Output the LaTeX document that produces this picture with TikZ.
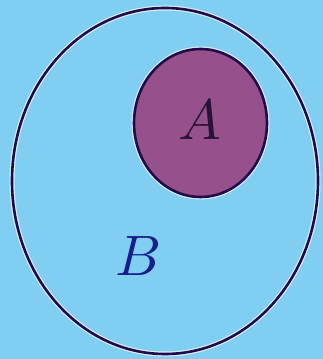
\documentclass[tikz,border=0pt]{standalone}
\definecolor{bg}{RGB}{128,206,242}
\definecolor{halo}{RGB}{215,240,252}
\definecolor{rim}{RGB}{35,10,75}
\definecolor{fillA}{RGB}{150,80,140}
\definecolor{textA}{RGB}{40,20,55}
\definecolor{textB}{RGB}{25,30,140}
\tikzset{
  setline/.style={draw=rim, line width=2.6pt},
  glow/.style={draw=halo, line width=5pt},
  lbl/.style={font=\normalsize, scale=5.7, transform shape},
}
\begin{document}
\begin{tikzpicture}[x=1pt,y=1pt]
\fill[bg] (0,0) rectangle (323,359);
\useasboundingbox (0,0) rectangle (323,359);
% outer set B
\draw[glow] (165,178) ellipse [x radius=153, y radius=173];
\draw[setline] (165,178) ellipse [x radius=153, y radius=173];
% inner set A
\draw[glow] (200.5,236) ellipse [x radius=66.5, y radius=74];
\draw[setline, fill=fillA] (200.5,236) ellipse [x radius=66.5, y radius=74];
\node[lbl, text=textA] (A) at (200,239) {$A$};
\node[lbl, text=textB] (B) at (139,103) {$B$};
\end{tikzpicture}
\end{document}
